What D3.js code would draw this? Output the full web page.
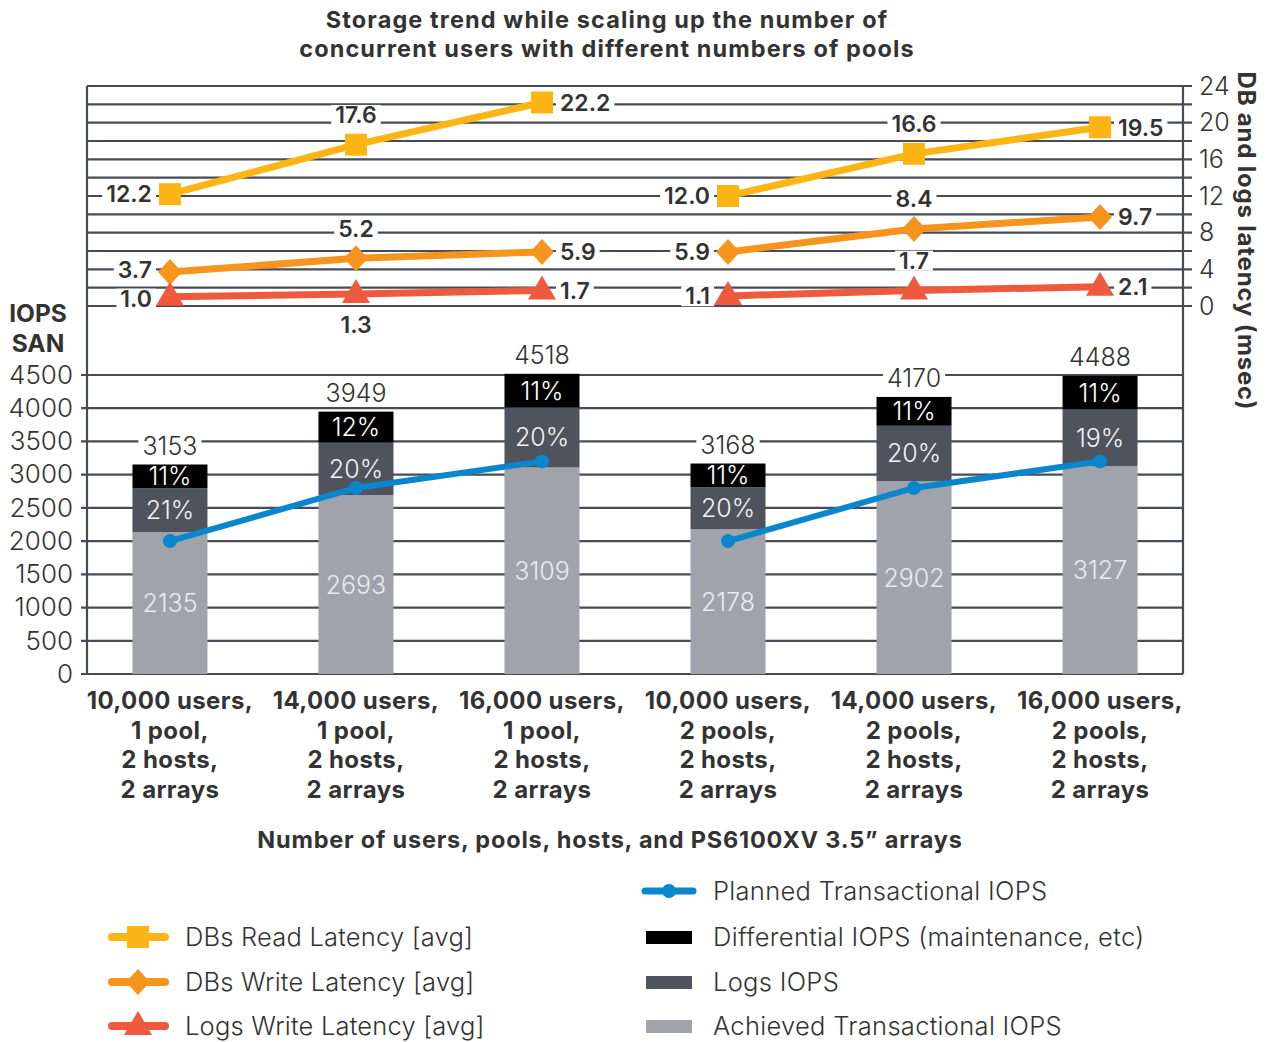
<!DOCTYPE html>
<html><head><meta charset="utf-8">
<script src="https://cdn.jsdelivr.net/npm/d3@7"></script>
<style>
body{margin:0;background:#fff;}
text{font-family:Inter,"Open Sans",sans-serif;}
</style>
</head><body>
<svg id="chart" width="1273" height="1042"></svg>
<script>
// ---------- DATA ----------
const titleLines = ["Storage trend while scaling up the number of", "concurrent users with different numbers of pools"];
const categories = [
  ["10,000 users,", "1 pool,", "2 hosts,", "2 arrays"],
  ["14,000 users,", "1 pool,", "2 hosts,", "2 arrays"],
  ["16,000 users,", "1 pool,", "2 hosts,", "2 arrays"],
  ["10,000 users,", "2 pools,", "2 hosts,", "2 arrays"],
  ["14,000 users,", "2 pools,", "2 hosts,", "2 arrays"],
  ["16,000 users,", "2 pools,", "2 hosts,", "2 arrays"]
];
const poolGroups   = [[0, 1, 2], [3, 4, 5]];
const achievedIOPS = [2135, 2693, 3109, 2178, 2902, 3127];
const logsIOPS     = [662, 790, 904, 634, 834, 853];
const diffIOPS     = [356, 466, 505, 356, 434, 508];
const totalIOPS    = [3153, 3949, 4518, 3168, 4170, 4488];
const logsPct      = ["21%", "20%", "20%", "20%", "20%", "19%"];
const diffPct      = ["11%", "12%", "11%", "11%", "11%", "11%"];
const plannedIOPS  = [2000, 2800, 3200, 2000, 2800, 3200];
const readLatency  = [12.2, 17.6, 22.2, 12.0, 16.6, 19.5];
const writeLatency = [3.7, 5.2, 5.9, 5.9, 8.4, 9.7];
const logsLatency  = [1.0, 1.3, 1.7, 1.1, 1.7, 2.1];
const iopsTicks    = [0, 500, 1000, 1500, 2000, 2500, 3000, 3500, 4000, 4500];
const latencyTicks = [0, 4, 8, 12, 16, 20, 24];
const latencyGrid  = [0, 2, 4, 6, 8, 10, 12, 14, 16, 18, 20, 22, 24];
const xAxisTitle = "Number of users, pools, hosts, and PS6100XV 3.5\u201D arrays";
const leftAxisTitle = ["IOPS", "SAN"];
const rightAxisTitle = "DB and logs latency (msec)";

// label placement (layout)
const readSide  = ["left", "top", "right", "left", "top", "right"];
const writeSide = ["left", "top", "right", "left", "top", "right"];
const logsSide  = ["left", "bottom", "right", "left", "top", "right"];
const readNudge  = [0, 0, 0, 0, 0, 0];
const writeNudge = [-2, 0, 0, 0, 0, 0];
const logsNudge  = [1.5, 0, 0, 0, 0, 0];

// ---------- STYLE ----------
const C = {
  grid: "#464b55", text: "#333333", achieved: "#a0a4aa", logs: "#4e535d", diff: "#000000",
  planned: "#0a86cf", read: "#fdb515", write: "#f7941e", logsLat: "#ef5a3e"
};
const L = 87, R = 1183, TOP = 86;

const svg = d3.select("#chart");
const x = d3.scalePoint().domain(d3.range(categories.length)).range([L, R]).padding(0.446);
const yL = d3.scaleLinear().domain([0, 4500]).range([674, 375]);
const yR = d3.scaleLinear().domain([0, 24]).range([306, TOP]);

// title
svg.append("g").selectAll("text").data(titleLines).join("text")
  .attr("x", 607).attr("y", (d, i) => 28 + i * 29)
  .attr("text-anchor", "middle").attr("font-size", 23.5).attr("font-weight", 700).attr("letter-spacing", 1.1)
  .attr("fill", C.text).text(d => d);

// grid
const grid = svg.append("g");
grid.selectAll(".gu").data(latencyGrid).join("line")
  .attr("x1", L).attr("x2", R + 9).attr("y1", d => yR(d)).attr("y2", d => yR(d))
  .attr("stroke", C.grid).attr("stroke-width", 2.2);
grid.selectAll(".gl").data(iopsTicks).join("line")
  .attr("x1", L - 6).attr("x2", R).attr("y1", d => yL(d)).attr("y2", d => yL(d))
  .attr("stroke", C.grid).attr("stroke-width", 2.2);
grid.append("line").attr("x1", L).attr("x2", L).attr("y1", TOP).attr("y2", yL(0)).attr("stroke", C.grid).attr("stroke-width", 2.2);
grid.append("line").attr("x1", R).attr("x2", R).attr("y1", TOP).attr("y2", yL(0)).attr("stroke", C.grid).attr("stroke-width", 2.2);

// axis labels
const axL = svg.append("g").attr("transform", `translate(${L - 14},0)`)
  .call(d3.axisLeft(yL).tickValues(iopsTicks).tickSize(0).tickPadding(0).tickFormat(d3.format("d")));
axL.select(".domain").remove();
axL.selectAll("text").attr("font-size", 26).attr("font-weight", 300).attr("fill", C.text).attr("font-family", "Inter");

const axR = svg.append("g").attr("transform", `translate(${R + 16},0)`)
  .call(d3.axisRight(yR).tickValues(latencyTicks).tickSize(0).tickPadding(0).tickFormat(d3.format("d")));
axR.select(".domain").remove();
axR.selectAll("text").attr("font-size", 25).attr("font-weight", 300).attr("fill", C.text).attr("font-family", "Inter");

// axis titles
svg.append("g").selectAll("text").data(leftAxisTitle).join("text")
  .attr("x", 38).attr("y", (d, i) => 322 + i * 30).attr("text-anchor", "middle")
  .attr("font-size", 24.5).attr("font-weight", 700).attr("fill", C.text).text(d => d);
svg.append("text").attr("transform", "translate(1238,241) rotate(90)")
  .attr("text-anchor", "middle").attr("font-size", 24).attr("font-weight", 700).attr("letter-spacing", 0.8)
  .attr("fill", C.text).text(rightAxisTitle);

// bars
const BW = 75;
const stackData = categories.map((c, i) => ({ i, a: achievedIOPS[i], l: logsIOPS[i], d: diffIOPS[i] }));
const series = d3.stack().keys(["a", "l", "d"])(stackData);
const barColors = { a: C.achieved, l: C.logs, d: C.diff };
svg.append("g").selectAll("g").data(series).join("g").attr("fill", s => barColors[s.key])
  .selectAll("rect").data(s => s).join("rect")
  .attr("x", d => x(d.data.i) - BW / 2).attr("width", BW)
  .attr("y", d => yL(d[1])).attr("height", d => yL(d[0]) - yL(d[1]));

// label helper with white background
function bgLabel(g, tx, ty, text, anchor, opts) {
  const t = g.append("text").attr("x", tx).attr("y", ty).attr("dy", "0.36em")
    .attr("text-anchor", anchor).attr("font-size", opts.size).attr("font-weight", opts.weight)
    .attr("fill", opts.color).text(text);
  if (opts.bg) {
    const b = t.node().getBBox();
    g.insert("rect", "text").attr("x", b.x - 4).attr("y", b.y + 4).attr("width", b.width + 8)
      .attr("height", b.height - 8).attr("fill", "#fff");
  }
  return t;
}

const inner = svg.append("g");
series[0].forEach((d, i) => {
  bgLabel(inner, x(i), (yL(d[0]) + yL(d[1])) / 2, achievedIOPS[i], "middle", { size: 25, weight: 300, color: "#e9eaeb" });
});
series[1].forEach((d, i) => {
  bgLabel(inner, x(i), (yL(d[0]) + yL(d[1])) / 2, logsPct[i], "middle", { size: 25, weight: 300, color: "#f2f2f2" });
});
series[2].forEach((d, i) => {
  bgLabel(inner, x(i), (yL(d[0]) + yL(d[1])) / 2, diffPct[i], "middle", { size: 25, weight: 300, color: "#ffffff" });
});
totalIOPS.forEach((v, i) => {
  const g = svg.append("g");
  bgLabel(g, x(i), yL(v) - 19, v, "middle", { size: 25, weight: 300, color: C.text, bg: true });
});

// planned line (one segment per pool configuration)
const plannedLine = d3.line().x(i => x(i)).y(i => yL(plannedIOPS[i]));
svg.append("g").selectAll("path").data(poolGroups).join("path").attr("d", plannedLine)
  .attr("fill", "none").attr("stroke", C.planned).attr("stroke-width", 6);
svg.append("g").selectAll("circle").data(plannedIOPS).join("circle")
  .attr("cx", (d, i) => x(i)).attr("cy", d => yL(d)).attr("r", 7).attr("fill", C.planned);

// latency lines
const shapes = {
  square: "M-11,-11H11V11H-11Z",
  diamond: "M0,-13L12,0L0,13L-12,0Z",
  triangle: "M0,-15L14,9L-14,9Z"
};
function latencySeries(vals, color, shape, sides, nudge) {
  const line = d3.line().x(i => x(i)).y(i => yR(vals[i]));
  svg.append("g").selectAll("path").data(poolGroups).join("path").attr("d", line).attr("fill", "none")
    .attr("stroke", color).attr("stroke-width", 7);
  svg.append("g").selectAll("path").data(vals).join("path")
    .attr("transform", (d, i) => `translate(${x(i)},${yR(d)})`)
    .attr("d", shapes[shape]).attr("fill", color);
  const g = svg.append("g");
  vals.forEach((v, i) => {
    const px = x(i), py = yR(v) + nudge[i], s = sides[i];
    const txt = d3.format(".1f")(v);
    const o = { size: 23, weight: 600, color: C.text, bg: true };
    if (s === "left") bgLabel(g, px - 18, py, txt, "end", o);
    else if (s === "right") bgLabel(g, px + 18, py, txt, "start", o);
    else if (s === "top") bgLabel(g, px, py - 30, txt, "middle", o);
    else bgLabel(g, px, py + 31, txt, "middle", o);
  });
}
latencySeries(readLatency, C.read, "square", readSide, readNudge);
latencySeries(writeLatency, C.write, "diamond", writeSide, writeNudge);
latencySeries(logsLatency, C.logsLat, "triangle", logsSide, logsNudge);

// x axis labels
categories.forEach((lines, i) => {
  svg.append("g").selectAll("text").data(lines).join("text")
    .attr("x", x(i)).attr("y", (d, k) => 709 + k * 29.7).attr("text-anchor", "middle")
    .attr("font-size", 24).attr("font-weight", 700).attr("letter-spacing", 0.4).attr("fill", C.text).text(d => d);
});
svg.append("text").attr("x", 610).attr("y", 848).attr("text-anchor", "middle")
  .attr("font-size", 23.5).attr("font-weight", 700).attr("letter-spacing", 0.8).attr("fill", C.text).text(xAxisTitle);

// legend
const legendLeft = [
  { name: "DBs Read Latency [avg]", color: C.read, shape: "square" },
  { name: "DBs Write Latency [avg]", color: C.write, shape: "diamond" },
  { name: "Logs Write Latency [avg]", color: C.logsLat, shape: "triangle" }
];
const legendRight = [
  { name: "Planned Transactional IOPS", color: C.planned, type: "line" },
  { name: "Differential IOPS (maintenance, etc)", color: C.diff, type: "rect" },
  { name: "Logs IOPS", color: C.logs, type: "rect" },
  { name: "Achieved Transactional IOPS", color: C.achieved, type: "rect" }
];
const legRowsL = [937, 982, 1026];
const legRowsR = [891, 937, 982, 1026];
legendLeft.forEach((d, i) => {
  const g = svg.append("g").attr("transform", `translate(138,${legRowsL[i]})`);
  g.append("line").attr("x1", -26).attr("x2", 27).attr("stroke", d.color).attr("stroke-width", 8).attr("stroke-linecap", "round");
  g.append("path").attr("d", shapes[d.shape]).attr("fill", d.color);
  g.append("text").attr("x", 47).attr("dy", "0.36em").attr("font-size", 25.5).attr("font-weight", 300).attr("letter-spacing", 0.2)
    .attr("fill", C.text).text(d.name);
});
legendRight.forEach((d, i) => {
  const g = svg.append("g").attr("transform", `translate(669,${legRowsR[i]})`);
  if (d.type === "line") {
    g.append("line").attr("x1", -24).attr("x2", 24).attr("stroke", d.color).attr("stroke-width", 7).attr("stroke-linecap", "round");
    g.append("circle").attr("r", 7).attr("fill", d.color);
  } else {
    g.append("rect").attr("x", -23).attr("y", -6).attr("width", 46).attr("height", 13).attr("fill", d.color);
  }
  g.append("text").attr("x", 44).attr("dy", "0.36em").attr("font-size", 25.5).attr("font-weight", 300).attr("letter-spacing", 0.3)
    .attr("fill", C.text).text(d.name);
});
</script>
</body></html>
